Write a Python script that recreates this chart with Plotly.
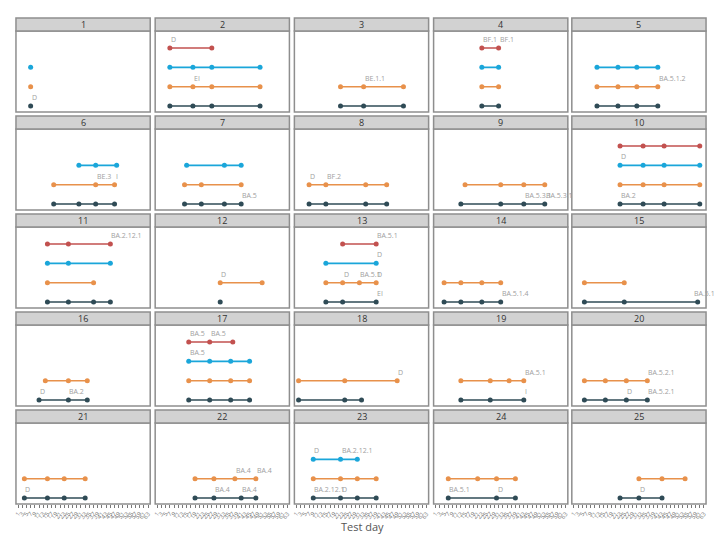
import plotly.graph_objects as go

# ---------------- data ----------------
PANELS = list(range(1, 26))
TICK_DAYS = list(range(1, 64, 2))

# y level per series (1 = bottom row)
SERIES = ["dark", "orange", "blue", "red"]
LEVEL = {"dark": 1, "orange": 2, "blue": 3, "red": 4}
COLOR = {"dark": "#2f4b56", "orange": "#e8914b", "blue": "#1aa6da", "red": "#c2514f"}

DARK = {1: [7], 2: [7, 18, 27, 50], 3: [22, 33, 52], 4: [23, 31], 5: [12, 22, 31, 41],
        6: [18, 30, 38, 47], 7: [14, 22, 33, 41], 8: [7, 15, 34, 44], 9: [13, 32, 43, 53],
        10: [23, 34, 44, 61], 11: [15, 25, 37, 45], 12: [31], 13: [15, 23, 39],
        14: [5, 13, 23, 32], 15: [6, 25, 60], 16: [11, 25, 34], 17: [16, 26, 36, 45],
        18: [2, 24, 32], 19: [13, 27, 43], 20: [6, 16, 26, 36], 21: [4, 15, 23, 33],
        22: [19, 28, 41, 48], 23: [9, 22, 30, 39], 24: [7, 30, 39], 25: [23, 32, 43]}
DARK_LBL = {1: {7: "D"}, 7: {41: "BA.5"}, 9: {43: "BA.5.3.1", 53: "BA.5.3.1"},
            10: {23: "BA.2"}, 13: {39: "EI"}, 14: {32: "BA.5.1.4"}, 15: {60: "BA.5.1"},
            16: {11: "D", 25: "BA.2"}, 19: {43: "I"}, 20: {26: "D", 36: "BA.5.2.1"},
            21: {4: "D"}, 22: {28: "BA.4", 41: "BA.4"}, 23: {9: "BA.2.12.1", 22: "D"},
            24: {7: "BA.5.1", 30: "D"}, 25: {32: "D"}}

ORANGE = {1: [7], 2: [7, 18, 27, 50], 3: [22, 33, 52], 4: [23, 31], 5: [12, 22, 31, 41],
          6: [18, 38, 47], 7: [14, 22, 41], 8: [7, 15, 34, 44], 9: [15, 32, 43, 53],
          10: [23, 34, 44, 61], 11: [15, 37], 12: [31, 51], 13: [15, 23, 31, 39],
          14: [5, 13, 23, 32], 15: [6, 25], 16: [14, 25, 34], 17: [16, 26, 36, 45],
          18: [2, 24, 49], 19: [13, 27, 36, 43], 20: [6, 16, 26, 36], 21: [4, 15, 23, 33],
          22: [19, 28, 38, 48], 23: [9, 22, 30, 39], 24: [7, 21, 30, 39], 25: [32, 43, 54]}
ORANGE_LBL = {2: {18: "EI"}, 3: {33: "BE.1.1"}, 5: {41: "BA.5.1.2"},
              6: {38: "BE.3", 47: "I"}, 8: {7: "D", 15: "BF.2"}, 12: {31: "D"},
              13: {23: "D", 31: "BA.5.1", 39: "D"}, 18: {49: "D"}, 19: {43: "BA.5.1"},
              20: {36: "BA.5.2.1"}, 22: {38: "BA.4", 48: "BA.4"}}

BLUE = {1: [7], 2: [7, 18, 27, 50], 4: [23, 31], 5: [12, 22, 31, 41], 6: [30, 38, 48],
        7: [15, 33, 41], 10: [23, 34, 44, 61], 11: [15, 25, 45], 13: [15, 39],
        17: [16, 26, 36, 45], 23: [9, 22, 30]}
BLUE_LBL = {10: {23: "D"}, 13: {39: "D"}, 17: {16: "BA.5"},
            23: {9: "D", 22: "BA.2.12.1"}}

RED = {2: [7, 27], 4: [23, 31], 10: [23, 34, 44, 61], 11: [15, 25, 45], 13: [23, 39],
       17: [16, 26, 37]}
RED_LBL = {2: {7: "D"}, 4: {23: "BF.1", 31: "BF.1"}, 11: {45: "BA.2.12.1"},
           13: {39: "BA.5.1"}, 17: {16: "BA.5", 26: "BA.5"}}

DATA = {"dark": (DARK, DARK_LBL), "orange": (ORANGE, ORANGE_LBL),
        "blue": (BLUE, BLUE_LBL), "red": (RED, RED_LBL)}

# ---------------- layout geometry (screen pixels) ----------------
OFF = 8                      # page body margin
W, H = 725 - 2 * OFF, 547 - 2 * OFF
COL_L = [14, 154, 294, 434, 573]
PW = 135
XMAX = 64
STRIP_TOP0 = 18
STRIP_H = 13
PLOT_H = 81
ROW_PITCH = 98
FONT = "Open Sans, Lato, DejaVu Sans, sans-serif"
LBL_SIZE = 7


def px(x):
    return (x - OFF) / W


def py(y):
    return (H - (y - OFF)) / H


fig = go.Figure()
layout = dict(width=W, height=H, margin=dict(l=0, r=0, t=0, b=0),
              paper_bgcolor="white", plot_bgcolor="white", showlegend=False,
              font=dict(family=FONT, color="#555555"))
shapes, annotations = [], []

for i, p in enumerate(PANELS):
    r, c = divmod(i, 5)
    x0 = COL_L[c]
    x1 = x0 + PW
    st = STRIP_TOP0 + r * ROW_PITCH
    pt = st + STRIP_H
    pb = pt + PLOT_H
    ax = "" if i == 0 else str(i + 1)
    bottom = (r == 4)
    layout["xaxis" + ax] = dict(domain=[px(x0), px(x1)], anchor="y" + ax, range=[0, XMAX],
                                showgrid=False, zeroline=False, showline=False,
                                tickmode="array", tickvals=TICK_DAYS,
                                ticktext=[str(d) for d in TICK_DAYS],
                                showticklabels=bottom,
                                ticks="outside" if bottom else "",
                                ticklen=3, tickcolor="#777777", tickwidth=1,
                                tickangle=-50,
                                tickfont=dict(size=6, color="#777777"))
    layout["yaxis" + ax] = dict(domain=[py(pb), py(pt)], anchor="x" + ax, range=[0.69, 4.88],
                                showgrid=False, zeroline=False, showline=False,
                                showticklabels=False, ticks="")
    # panel border
    shapes.append(dict(type="rect", xref="paper", yref="paper",
                       x0=px(x0), x1=px(x1), y0=py(pb), y1=py(pt),
                       line=dict(color="#8e8e8e", width=1.5), fillcolor="rgba(0,0,0,0)"))
    # strip
    shapes.append(dict(type="rect", xref="paper", yref="paper",
                       x0=px(x0), x1=px(x1), y0=py(pt), y1=py(st),
                       line=dict(color="#8e8e8e", width=1.5), fillcolor="#d2d2d2"))
    annotations.append(dict(text=str(p), xref="paper", yref="paper",
                            x=px((x0 + x1) / 2), y=py((st + pt) / 2),
                            xanchor="center", yanchor="middle", showarrow=False,
                            font=dict(size=9, color="#333333", family=FONT)))
    for s in SERIES:
        days_map, lbl_map = DATA[s]
        if p not in days_map:
            continue
        days = days_map[p]
        fig.add_trace(go.Scatter(
            x=days, y=[LEVEL[s]] * len(days), xaxis="x" + ax, yaxis="y" + ax,
            mode="lines+markers",
            line=dict(color=COLOR[s], width=1.6),
            marker=dict(color=COLOR[s], size=5), cliponaxis=False,
            hoverinfo="skip"))
        for d, t in lbl_map.get(p, {}).items():
            # keep labels inside the page: shift left if they would overflow
            sx = x0 + d / XMAX * PW
            est_w = len(t) * 3.4 + 2
            shift = -1
            if sx + shift + est_w > OFF + W - 1:
                shift = (OFF + W - 1) - est_w - sx
            annotations.append(dict(text=t, xref="x" + ax, yref="y" + ax, x=d, y=LEVEL[s],
                                    xanchor="left", yanchor="bottom", xshift=shift,
                                    yshift=2, showarrow=False,
                                    font=dict(size=LBL_SIZE, color="#a0a0a0", family=FONT)))

annotations.append(dict(text="Test day", xref="paper", yref="paper",
                        x=px(362), y=py(526), xanchor="center", yanchor="middle",
                        showarrow=False, font=dict(size=11, color="#555555", family=FONT)))
layout["shapes"] = shapes
layout["annotations"] = annotations
fig.update_layout(**layout)
fig.write_html("out.html")
